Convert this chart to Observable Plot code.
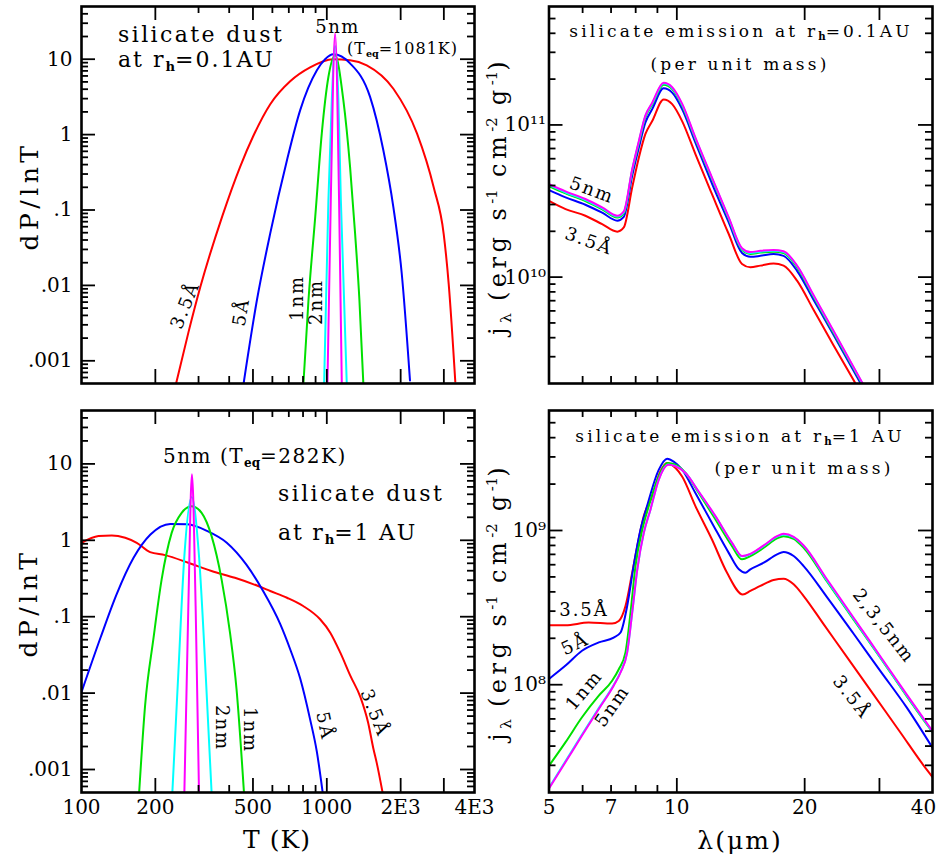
<!DOCTYPE html>
<html><head><meta charset="utf-8">
<script src="https://cdn.jsdelivr.net/npm/d3@7"></script>
<script src="https://cdn.jsdelivr.net/npm/@observablehq/plot@0.6"></script>
<style>
html,body{margin:0;padding:0;background:#fff;}
#fig{position:relative;width:938px;height:857px;font-family:"DejaVu Serif",serif;color:#000;overflow:hidden;background:#fff;}
.lab{position:absolute;white-space:nowrap;line-height:1;transform-origin:center center;}
.sb{font-size:0.6em;font-weight:bold;position:relative;top:0.3em;letter-spacing:0;}
.sl{font-size:0.65em;position:relative;top:0.3em;letter-spacing:0;}
.sp{font-size:0.62em;position:relative;top:-0.6em;letter-spacing:0;}
</style></head><body><div id="fig"></div>
<script>
// ---------- series ----------
const sizes = ["3.5Å", "5Å", "1nm", "2nm", "5nm"];

// Top-left: dP/dlnT vs T at r_h = 0.1 AU
const tlT35 = [243, 273, 305, 375, 444, 501, 588, 709, 855, 1061, 1244, 1455, 1868, 2333, 2727, 2996, 3140, 3340];
const tlP35 = [5e-4, 0.0024, 0.0095, 0.083, 0.38, 0.95, 2.53, 5.1, 7.8, 10.0, 9.7, 8.3, 4.06, 1.03, 0.20, 0.048, 0.0104, 5.3e-4];
const tlT5A = [458, 519, 588, 688, 779, 839, 911, 984, 1064, 1244, 1501, 1700, 1867, 2020, 2183];
const tlP5A = [5e-4, 0.0064, 0.049, 0.457, 2.11, 4.12, 7.15, 10.0, 11.6, 8.8, 3.16, 0.62, 0.11, 0.0145, 5.5e-4];
const tlT1n = [803, 842, 897, 954, 1015, 1081, 1168, 1244, 1304, 1358, 1409];
const tlP1n = [5e-4, 0.0064, 0.081, 1.04, 5.8, 11.3, 2.86, 0.373, 0.049, 0.0064, 5e-4];
const tlT2n = [975, 1015, 1048, 1081, 1115, 1141, 1206];
const tlP2n = [5e-4, 0.135, 2.86, 15, 2.86, 0.135, 5e-4];
const tlT5n = [1006, 1038, 1081, 1122, 1151];
const tlP5n = [5e-4, 0.135, 22, 0.135, 5e-4];

// Bottom-left: dP/dlnT vs T at r_h = 1 AU
const blT35 = [100, 117.3, 132.9, 150.7, 168, 190.3, 219, 272.6, 338.9, 422, 525, 588, 688, 801, 939, 1033, 1135, 1248, 1372, 1474, 1547, 1596, 1688];
const blP35 = [0.927, 1.135, 1.16, 1.08, 0.927, 0.70, 0.64, 0.508, 0.396, 0.323, 0.252, 0.217, 0.177, 0.138, 0.0925, 0.0618, 0.0338, 0.0168, 0.0088, 0.0041, 0.0019, 0.00124, 5e-4];
const blT5A = [100, 119.5, 139, 163, 191, 230, 270, 326, 391, 470, 550, 646, 709, 779, 854, 911, 962];
const blP5A = [0.0103, 0.053, 0.196, 0.59, 1.19, 1.64, 1.62, 1.32, 0.93, 0.48, 0.217, 0.08, 0.0375, 0.0155, 0.0046, 0.0017, 5e-4];
const blT1n = [171.8, 181.6, 196.3, 212.2, 233.1, 256, 281.1, 308.8, 339.1, 372.4, 403, 428.6, 459.5];
const blP1n = [5e-4, 0.00681, 0.0507, 0.308, 1.25, 2.29, 2.8, 2.29, 1.135, 0.308, 0.0618, 0.0112, 5e-4];
const blT2n = [234.6, 248.2, 262.6, 281.1, 301.3, 320.6, 339.1];
const blP2n = [5e-4, 0.0185, 0.62, 3.7, 0.62, 0.0185, 5e-4];
const blT5n = [262.6, 272.6, 282, 291.9, 301.3];
const blP5n = [5e-4, 0.138, 7.3, 0.138, 5e-4];

// Top-right: j_lambda vs lambda at r_h = 0.1 AU
const trL35 = [5.0, 5.47, 6.09, 6.67, 7.24, 7.50, 7.85, 8.14, 8.43, 8.75, 9.31, 9.75, 10.29, 11.06, 12.1, 13.25, 14.24, 14.9, 15.73, 16.9, 17.84, 19.19, 21.0, 23.4, 26.35];
const trJ35 = [3.17e10, 2.80e10, 2.53e10, 2.23e10, 1.99e10, 2.12e10, 3.88e10, 6.11e10, 8.69e10, 1.06e11, 1.47e11, 1.37e11, 1.06e11, 6.43e10, 3.51e10, 1.92e10, 1.22e10, 1.16e10, 1.19e10, 1.23e10, 1.19e10, 9.48e9, 6.08e9, 3.56e9, 2.0e9];
const trL5A = [5.0, 5.47, 6.09, 6.67, 7.24, 7.50, 7.85, 8.14, 8.43, 8.75, 9.31, 9.75, 10.29, 11.06, 12.1, 13.25, 14.24, 14.9, 15.73, 16.9, 17.84, 19.19, 21.0, 23.4, 27.1];
const trJ5A = [3.73e10, 3.34e10, 2.99e10, 2.65e10, 2.35e10, 2.49e10, 4.64e10, 7.10e10, 1.035e11, 1.27e11, 1.74e11, 1.63e11, 1.27e11, 7.66e10, 4.12e10, 2.29e10, 1.44e10, 1.36e10, 1.38e10, 1.42e10, 1.38e10, 1.10e10, 7.08e9, 4.17e9, 2.0e9];
const trL1n = [5.0, 5.47, 6.09, 6.67, 7.24, 7.50, 7.85, 8.14, 8.43, 8.75, 9.31, 9.75, 10.29, 11.06, 12.1, 13.25, 14.24, 14.9, 15.73, 16.9, 17.84, 19.19, 21.0, 23.4, 27.3];
const trJ1n = [3.95e10, 3.55e10, 3.16e10, 2.79e10, 2.46e10, 2.62e10, 4.98e10, 7.6e10, 1.12e11, 1.36e11, 1.84e11, 1.72e11, 1.34e11, 8.05e10, 4.4e10, 2.41e10, 1.51e10, 1.42e10, 1.45e10, 1.47e10, 1.44e10, 1.16e10, 7.4e9, 4.3e9, 2.0e9];
const trL2n = [5.0, 5.47, 6.09, 6.67, 7.24, 7.50, 7.85, 8.14, 8.43, 8.75, 9.31, 9.75, 10.29, 11.06, 12.1, 13.25, 14.24, 14.9, 15.73, 16.9, 17.84, 19.19, 21.0, 23.4, 27.35];
const trJ2n = [4.02e10, 3.6e10, 3.21e10, 2.83e10, 2.5e10, 2.66e10, 5.05e10, 7.75e10, 1.14e11, 1.38e11, 1.87e11, 1.75e11, 1.36e11, 8.15e10, 4.46e10, 2.44e10, 1.53e10, 1.44e10, 1.47e10, 1.49e10, 1.46e10, 1.18e10, 7.5e9, 4.37e9, 2.0e9];
const trL5n = [5.0, 5.47, 6.09, 6.67, 7.24, 7.50, 7.85, 8.14, 8.43, 8.75, 9.31, 9.75, 10.29, 11.06, 12.1, 13.25, 14.24, 14.9, 15.73, 16.9, 17.84, 19.19, 21.0, 23.4, 27.4];
const trJ5n = [4.08e10, 3.66e10, 3.26e10, 2.87e10, 2.53e10, 2.70e10, 5.12e10, 7.85e10, 1.15e11, 1.40e11, 1.89e11, 1.77e11, 1.38e11, 8.26e10, 4.51e10, 2.47e10, 1.55e10, 1.46e10, 1.49e10, 1.51e10, 1.48e10, 1.19e10, 7.6e9, 4.43e9, 2.0e9];

// Bottom-right: j_lambda vs lambda at r_h = 1 AU
const brL35 = [5.0, 5.47, 6.2, 7.04, 7.3, 7.57, 7.85, 8.07, 8.36, 8.75, 9.15, 9.49, 9.93, 10.29, 11.06, 12.1, 13.13, 14.3, 14.9, 15.73, 16.9, 17.84, 18.84, 19.89, 22.16, 25.16, 29.06, 33.58, 38.1, 40];
const brJ35 = [2.43e8, 2.43e8, 2.53e8, 2.49e8, 2.59e8, 3.24e8, 5.32e8, 7.92e8, 1.24e9, 1.67e9, 2.42e9, 2.74e9, 2.54e9, 2.24e9, 1.44e9, 8.74e8, 5.32e8, 3.85e8, 4.06e8, 4.37e8, 4.77e8, 4.87e8, 4.48e8, 3.76e8, 2.47e8, 1.51e8, 8.62e7, 4.92e7, 3.0e7, 2.52e7];
const brL5A = [5.0, 5.47, 5.98, 6.55, 7.10, 7.37, 7.64, 7.91, 8.21, 8.51, 9.07, 9.49, 9.83, 10.29, 11.06, 12.1, 13.25, 14.0, 14.5, 14.9, 16.02, 17.22, 17.84, 18.84, 19.89, 22.57, 26.08, 30.13, 34.8, 40];
const brJ5A = [1.09e8, 1.33e8, 1.66e8, 1.88e8, 2.02e8, 2.18e8, 3.24e8, 5.88e8, 1.01e9, 1.44e9, 2.48e9, 2.92e9, 2.80e9, 2.48e9, 1.75e9, 1.12e9, 7.16e8, 5.6e8, 5.32e8, 5.6e8, 6.18e8, 7.0e8, 7.25e8, 6.83e8, 5.88e8, 3.7e8, 2.14e8, 1.23e8, 7.1e7, 3.9e7];
const brL1n = [5.0, 5.47, 5.98, 6.55, 7.04, 7.30, 7.57, 7.78, 7.99, 8.29, 8.59, 9.07, 9.49, 9.93, 10.48, 11.26, 12.33, 13.49, 14.24, 14.9, 16.02, 17.22, 17.84, 18.84, 19.89, 22.57, 26.08, 30.13, 34.8, 40];
const brJ1n = [2.98e7, 4.24e7, 6.15e7, 8.49e7, 1.06e8, 1.26e8, 1.62e8, 2.93e8, 5.88e8, 1.01e9, 1.44e9, 2.24e9, 2.74e9, 2.67e9, 2.36e9, 1.75e9, 1.18e9, 7.92e8, 6.5e8, 6.83e8, 7.73e8, 8.88e8, 9.19e8, 8.83e8, 7.73e8, 4.67e8, 2.64e8, 1.50e8, 8.41e7, 4.92e7];
const brL2n = [5.0, 5.47, 5.98, 6.55, 7.10, 7.37, 7.64, 7.85, 8.07, 8.36, 8.67, 9.07, 9.54, 9.93, 10.48, 11.26, 12.33, 13.49, 14.24, 14.9, 16.02, 17.22, 17.84, 18.84, 19.89, 22.57, 26.08, 30.13, 34.8, 40];
const brJ2n = [2.15e7, 3.2e7, 4.75e7, 7.05e7, 9.95e7, 1.21e8, 1.63e8, 2.93e8, 5.6e8, 9.65e8, 1.37e9, 2.15e9, 2.68e9, 2.62e9, 2.36e9, 1.78e9, 1.23e9, 8.28e8, 6.8e8, 7.02e8, 7.95e8, 9.12e8, 9.43e8, 9.03e8, 7.95e8, 4.75e8, 2.68e8, 1.51e8, 8.5e7, 4.95e7];
const brL5n = [5.0, 5.47, 5.98, 6.55, 7.10, 7.37, 7.64, 7.85, 8.07, 8.36, 8.67, 9.07, 9.54, 9.93, 10.48, 11.26, 12.33, 13.49, 14.24, 14.9, 16.02, 17.22, 17.84, 18.84, 19.89, 22.57, 26.08, 30.13, 34.8, 40];
const brJ5n = [2.12e7, 3.15e7, 4.68e7, 6.96e7, 9.86e7, 1.20e8, 1.62e8, 2.93e8, 5.6e8, 9.65e8, 1.37e9, 2.14e9, 2.67e9, 2.61e9, 2.36e9, 1.79e9, 1.24e9, 8.32e8, 6.83e8, 7.06e8, 8.0e8, 9.19e8, 9.51e8, 9.1e8, 8.0e8, 4.83e8, 2.72e8, 1.53e8, 8.62e7, 5.0e7];

// ---------- ticks ----------
const tXTicks = [100, 200, 500, 1000, 2000, 4000];
const tXTickLabels = ["100", "200", "500", "1000", "2E3", "4E3"];
const tXMajor = [200, 500, 1000, 2000, 3000];
const tXMinor = [300, 400, 600, 700, 800, 900];
const pYTicks = [0.001, 0.01, 0.1, 1, 10];
const pYTickLabels = [".001", ".01", ".1", "1", "10"];
const pYMinor = [6e-4, 7e-4, 8e-4, 9e-4, 2e-3, 3e-3, 4e-3, 5e-3, 6e-3, 7e-3, 8e-3, 9e-3, 0.02, 0.03, 0.04, 0.05, 0.06, 0.07, 0.08, 0.09, 0.2, 0.3, 0.4, 0.5, 0.6, 0.7, 0.8, 0.9, 2, 3, 4, 5, 6, 7, 8, 9, 20, 30, 40];
const lXTicks = [5, 7, 10, 20];
const lXTickLabels = ["5", "7", "10", "20"];
const lXEdgeTicks = [40];
const lXEdgeLabels = ["40"];
const lXMajor = [10, 20, 30];
const lXMinor = [6, 7, 8, 9];
const trYTicks = [1e10, 1e11];
const trYTickLabels = ["10¹⁰", "10¹¹"];
const trYMinor = [3e9, 4e9, 5e9, 6e9, 7e9, 8e9, 9e9, 2e10, 3e10, 4e10, 5e10, 6e10, 7e10, 8e10, 9e10, 2e11, 3e11, 4e11, 5e11];
const brYTicks = [1e8, 1e9];
const brYTickLabels = ["10⁸", "10⁹"];
const brYMinor = [3e7, 4e7, 5e7, 6e7, 7e7, 8e7, 9e7, 2e8, 3e8, 4e8, 5e8, 6e8, 7e8, 8e8, 9e8, 2e9, 3e9, 4e9, 5e9];

// ---------- style ----------
const colorRange = ["#ff0000", "#0000ff", "#00e000", "#00ffff", "#ff00ff"];
const FONT = "'DejaVu Serif', serif";

function rowsOf(list) {
  return list.flatMap(([size, xs, ys]) => xs.map((x, i) => ({size, x, y: ys[i]})));
}

function makePanel(o) {
  const fw = o.width - o.ml - o.mr, fh = o.height - o.mt - o.mb;
  const maj = 14, mnr = 7, sw = 1.8;
  const marks = [
    Plot.line(o.rows, {x: "x", y: "y", z: "size", stroke: "size", strokeWidth: 2, curve: "monotone-x", clip: true}),
    Plot.tickX(o.xMinor, {x: d => d, insetTop: fh - mnr, strokeWidth: sw}),
    Plot.tickX(o.xMinor, {x: d => d, insetBottom: fh - mnr, strokeWidth: sw}),
    Plot.tickX(o.xMajor, {x: d => d, insetTop: fh - maj, strokeWidth: sw}),
    Plot.tickX(o.xMajor, {x: d => d, insetBottom: fh - maj, strokeWidth: sw}),
    Plot.tickY(o.yMinor, {y: d => d, insetRight: fw - mnr, strokeWidth: sw}),
    Plot.tickY(o.yMinor, {y: d => d, insetLeft: fw - mnr, strokeWidth: sw}),
    Plot.tickY(o.yMajor, {y: d => d, insetRight: fw - maj, strokeWidth: sw}),
    Plot.tickY(o.yMajor, {y: d => d, insetLeft: fw - maj, strokeWidth: sw}),
    Plot.frame({strokeWidth: 2.6}),
    Plot.axisY({ticks: o.yTicks, tickFormat: d => o.yTickLabels[o.yTicks.indexOf(d)], tickSize: 0, tickPadding: o.yPad, label: null})
  ];
  if (o.xTicks) marks.push(Plot.axisX({ticks: o.xTicks, tickFormat: d => o.xTickLabels[o.xTicks.indexOf(d)], tickSize: 0, tickPadding: 7, label: null}));
  if (o.xEdgeTicks) marks.push(Plot.axisX({ticks: o.xEdgeTicks, tickFormat: d => o.xEdgeLabels[o.xEdgeTicks.indexOf(d)], tickSize: 0, tickPadding: 7, dx: -9, label: null}));
  return Plot.plot({
    width: o.width, height: o.height,
    marginLeft: o.ml, marginRight: o.mr, marginTop: o.mt, marginBottom: o.mb,
    x: {type: "log", domain: o.xDomain, axis: null, label: null},
    y: {type: "log", domain: o.yDomain, axis: null, label: null},
    color: {domain: sizes, range: colorRange},
    style: {position: "absolute", left: o.left + "px", top: o.top + "px", background: "transparent",
            overflow: "visible", fontFamily: FONT, fontSize: "20px", color: "#000", maxWidth: "none"},
    marks
  });
}

const fig = document.getElementById("fig");

fig.appendChild(makePanel({
  left: 0, top: 0, width: 480, height: 400, ml: 81, mr: 6, mt: 6, mb: 17,
  xDomain: [100, 4000], yDomain: [5e-4, 50],
  rows: rowsOf([[sizes[0], tlT35, tlP35], [sizes[1], tlT5A, tlP5A], [sizes[2], tlT1n, tlP1n], [sizes[3], tlT2n, tlP2n], [sizes[4], tlT5n, tlP5n]]),
  xMajor: tXMajor, xMinor: tXMinor, yMajor: pYTicks, yMinor: pYMinor,
  yTicks: pYTicks, yTickLabels: pYTickLabels, yPad: 9
}));
fig.appendChild(makePanel({
  left: 0, top: 404, width: 480, height: 453, ml: 81, mr: 6, mt: 6, mb: 65,
  xDomain: [100, 4000], yDomain: [5e-4, 50],
  rows: rowsOf([[sizes[0], blT35, blP35], [sizes[1], blT5A, blP5A], [sizes[2], blT1n, blP1n], [sizes[3], blT2n, blP2n], [sizes[4], blT5n, blP5n]]),
  xMajor: tXMajor, xMinor: tXMinor, yMajor: pYTicks, yMinor: pYMinor,
  yTicks: pYTicks, yTickLabels: pYTickLabels, yPad: 9,
  xTicks: tXTicks, xTickLabels: tXTickLabels
}));
fig.appendChild(makePanel({
  left: 480, top: 0, width: 458, height: 400, ml: 68.5, mr: 6, mt: 6, mb: 17,
  xDomain: [5, 40], yDomain: [2e9, 6e11],
  rows: rowsOf([[sizes[0], trL35, trJ35], [sizes[1], trL5A, trJ5A], [sizes[2], trL1n, trJ1n], [sizes[3], trL2n, trJ2n], [sizes[4], trL5n, trJ5n]]),
  xMajor: lXMajor, xMinor: lXMinor, yMajor: trYTicks, yMinor: trYMinor,
  yTicks: trYTicks, yTickLabels: trYTickLabels, yPad: 3
}));
fig.appendChild(makePanel({
  left: 480, top: 404, width: 458, height: 453, ml: 68.5, mr: 6, mt: 6, mb: 65,
  xDomain: [5, 40], yDomain: [2e7, 6e9],
  rows: rowsOf([[sizes[0], brL35, brJ35], [sizes[1], brL5A, brJ5A], [sizes[2], brL1n, brJ1n], [sizes[3], brL2n, brJ2n], [sizes[4], brL5n, brJ5n]]),
  xMajor: lXMajor, xMinor: lXMinor, yMajor: brYTicks, yMinor: brYMinor,
  yTicks: brYTicks, yTickLabels: brYTickLabels, yPad: 3,
  xTicks: lXTicks, xTickLabels: lXTickLabels, xEdgeTicks: lXEdgeTicks, xEdgeLabels: lXEdgeLabels
}));

// ---------- text annotations (layout) ----------
function label(html, x, y, fs, opt = {}) {
  const el = document.createElement("div");
  el.className = "lab";
  el.innerHTML = html;
  el.style.fontSize = fs + "px";
  el.style.letterSpacing = (opt.ls || 0) + "px";
  el.style.left = x + "px";
  el.style.top = y + "px";
  const tx = opt.anchor === "start" ? "0" : "-50%";
  el.style.transformOrigin = opt.anchor === "start" ? "left center" : "center center";
  el.style.transform = `translate(${tx},-50%) rotate(${opt.rot || 0}deg)`;
  fig.appendChild(el);
}
const rh = 'r<span class="sb">h</span>';
const teq = 'T<span class="sb">eq</span>';
const jlab = 'j<span class="sl">λ</span> (erg s<span class="sp">-1</span> cm<span class="sp">-2</span> g<span class="sp">-1</span>)';

// top-left
label("silicate dust", 118, 35, 22, {anchor: "start", ls: 2.4});
label(`at ${rh}=0.1AU`, 118, 60, 22, {anchor: "start", ls: 2});
label("5nm", 337.5, 27, 18, {ls: 1.5});
label(`(${teq}=1081K)`, 347, 49, 16, {anchor: "start", ls: 1});
label("3.5Å", 185, 305, 18, {rot: -68, ls: 2});
label("5Å", 241, 312, 18, {rot: -80, ls: 2});
label("1nm", 297, 298, 18, {rot: -90, ls: 2});
label("2nm", 316, 302, 18, {rot: -90, ls: 2});
// top-right
label(`silicate emission at ${rh}=0.1AU`, 741, 31, 17, {ls: 3.2});
label("(per unit mass)", 740, 64, 17, {ls: 3.2});
label("5nm", 591.5, 190, 18, {rot: 20, ls: 2});
label("3.5Å", 589, 241, 18, {rot: 20, ls: 2});
// bottom-left
label(`5nm (${teq}=282K)`, 163, 456, 20, {anchor: "start", ls: 1.5});
label("silicate dust", 278, 494, 22, {anchor: "start", ls: 2.4});
label(`at ${rh}=1 AU`, 278, 533, 22, {anchor: "start", ls: 1.8});
label("2nm", 221.5, 728, 18, {rot: 90, ls: 2});
label("1nm", 250, 730, 18, {rot: 90, ls: 2});
label("5Å", 325, 726, 18, {rot: 78, ls: 2});
label("3.5Å", 375, 713, 18, {rot: 68, ls: 2});
// bottom-right
label(`silicate emission at ${rh}=1 AU`, 740, 436, 17, {ls: 3.2});
label("(per unit mass)", 804, 468, 17, {ls: 3.2});
label("3.5Å", 584, 610, 18, {ls: 2});
label("5Å", 574.5, 643.5, 18, {rot: -25, ls: 2});
label("1nm", 584, 690, 18, {rot: -50, ls: 2});
label("5nm", 611.5, 705.5, 18, {rot: -55, ls: 2});
label("2,3,5nm", 884, 626, 18, {rot: 52, ls: 2});
label("3.5Å", 852, 697, 18, {rot: 52, ls: 2});
// axis titles
label("dP/lnT", 28.5, 196, 25, {rot: -90, ls: 4.5});
label("dP/lnT", 28, 603, 25, {rot: -90, ls: 4.5});
label("T (K)", 277, 839, 25, {ls: 1});
label("λ(μm)", 740, 840, 25, {ls: 2});
label(jlab, 498, 196, 24, {rot: -90, ls: 4.5});
label(jlab, 498, 602, 24, {rot: -90, ls: 4.5});
</script></body></html>
